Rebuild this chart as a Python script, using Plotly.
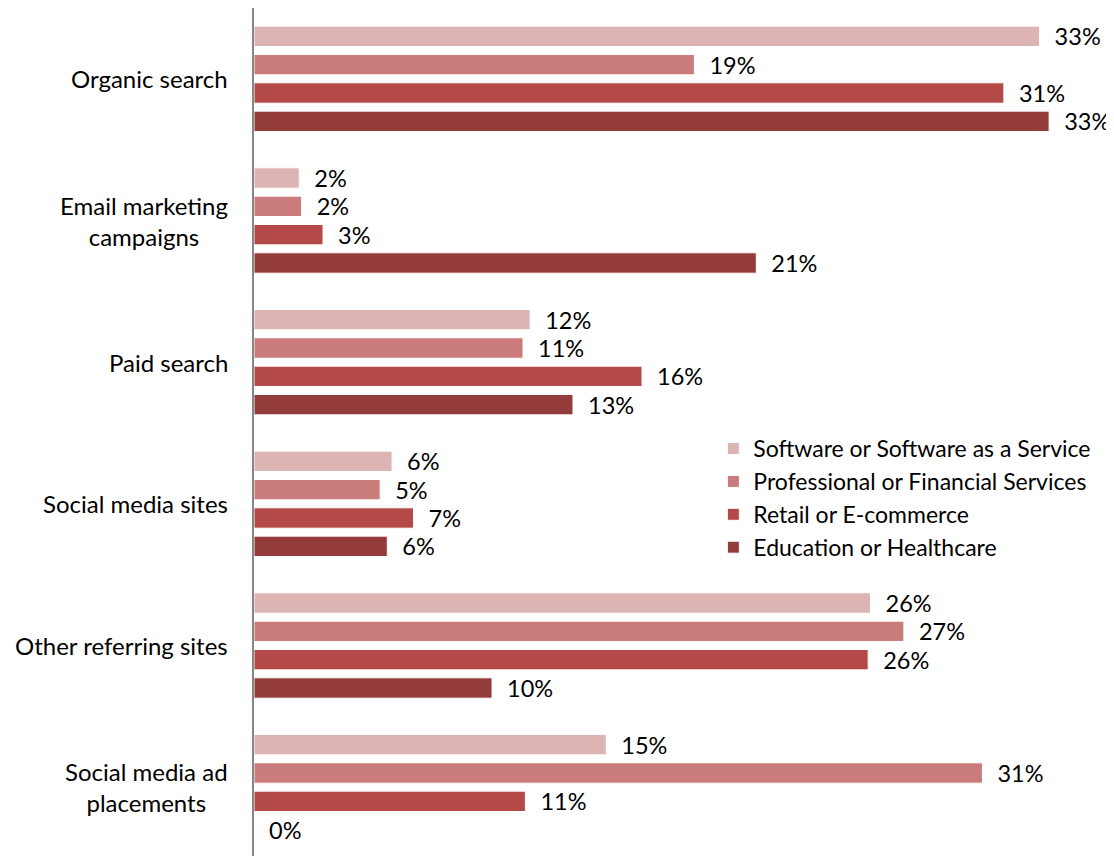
import plotly.graph_objects as go

categories = ["Organic search", "Email marketing<br>campaigns", "Paid search",
              "Social media sites", "Other referring sites", "Social media ad<br>placements"]
series_names = ["Software or Software as a Service", "Professional or Financial Services",
                "Retail or E-commerce", "Education or Healthcare"]
software = [33.0, 1.9, 11.6, 5.8, 25.9, 14.8]
professional = [18.5, 2.0, 11.3, 5.3, 27.3, 30.6]
retail = [31.5, 2.9, 16.3, 6.7, 25.8, 11.4]
education = [33.4, 21.1, 13.4, 5.6, 10.0, 0.0]
software_lbl = ["33%", "2%", "12%", "6%", "26%", "15%"]
professional_lbl = ["19%", "2%", "11%", "5%", "27%", "31%"]
retail_lbl = ["31%", "3%", "16%", "7%", "26%", "11%"]
education_lbl = ["33%", "21%", "13%", "6%", "10%", "0%"]
colors = ["#DDB4B4", "#C97C7B", "#B34A48", "#943B3B"]

FONT = "Lato"
fig = go.Figure()
for name, vals, lbls, col in zip(series_names, [software, professional, retail, education],
                                 [software_lbl, professional_lbl, retail_lbl, education_lbl], colors):
    fig.add_trace(go.Bar(
        y=categories, x=vals, name=name, orientation="h",
        marker=dict(color=col, line=dict(color="white", width=1)),
        text=["\u00a0\u00a0" + t for t in lbls], textposition="outside",
        textfont=dict(family=FONT, size=23.5, color="#000000"),
        constraintext="none", cliponaxis=False,
    ))

for c in categories:
    fig.add_annotation(x=0, xref="paper", y=c, yref="y", text=c, showarrow=False,
                       xanchor="right", align="center", xshift=-24,
                       font=dict(family=FONT, size=24, color="#000000"))

fig.update_layout(
    width=1106, height=850,
    margin=dict(l=246, r=3, t=0, b=0),
    paper_bgcolor="white", plot_bgcolor="white",
    barmode="group", bargap=0.2, bargroupgap=0.28,
    font=dict(family=FONT, size=24, color="#000000"),
    xaxis=dict(range=[0, 36], visible=False, showgrid=False, zeroline=False),
    yaxis=dict(autorange="reversed", showticklabels=False, showgrid=False, zeroline=False,
               showline=True, linecolor="#868686", linewidth=2, ticks=""),
    legend=dict(x=0.536, y=0.507, xanchor="left", yanchor="top", traceorder="normal",
                font=dict(family=FONT, size=23, color="#000000"), bgcolor="rgba(0,0,0,0)",
                itemwidth=30),
    showlegend=True,
)

fig.write_html("out.html")
